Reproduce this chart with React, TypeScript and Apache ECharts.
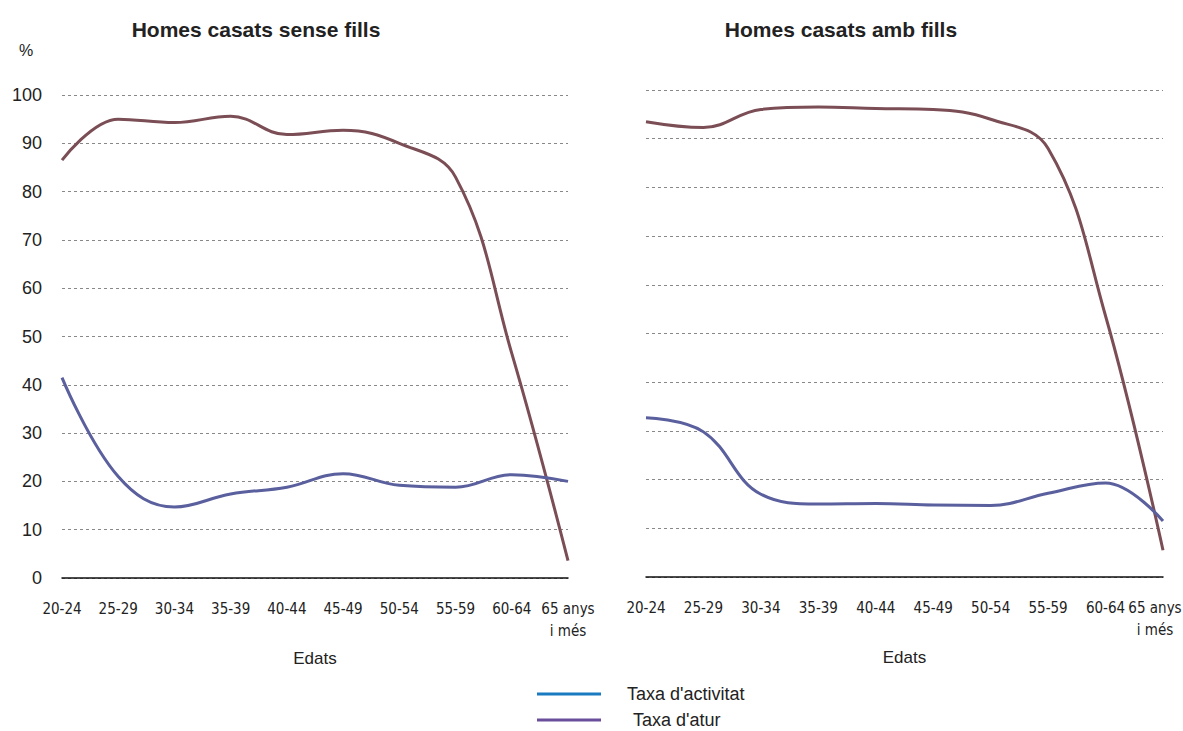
import React, { useEffect, useRef } from "react";
import * as echarts from "echarts";

const ages = ["20-24", "25-29", "30-34", "35-39", "40-44", "45-49", "50-54", "55-59", "60-64", "65 anys\ni més"];
const leftActivity = [86.5, 95, 94.3, 95.6, 91.8, 92.7, 90, 83, 46.5, 3.6];
const leftUnemployment = [41.5, 21, 14.7, 17.4, 18.8, 21.6, 19.2, 18.8, 21.4, 20];
const rightActivity = [93.5, 92.3, 96, 96.5, 96.2, 96, 94, 88, 53.6, 5.5];
const rightUnemployment = [32.7, 29.8, 17, 15, 15.1, 14.8, 14.7, 17.2, 19.3, 11.5];
const titles = ["Homes casats sense fills", "Homes casats amb fills"];
const seriesNames = ["Taxa d'activitat", "Taxa d'atur"];

const FONT = "'Liberation Sans', Arial, Helvetica, sans-serif";
const NARROW = "'Liberation Sans Narrow', 'Arial Narrow', 'DejaVu Sans Condensed', 'Liberation Sans', sans-serif";
const BROWN = "#7b4d55";
const SLATE = "#5a5f9d";

export default function App() {
  const ref = useRef<HTMLDivElement>(null);
  useEffect(() => {
    if (!ref.current) return;
    const chart = echarts.init(ref.current, null, { renderer: "svg" });
    const xAxisBase = (gridIndex: number, lastShift: number) => ({
      type: "category",
      gridIndex,
      data: ages,
      boundaryGap: false,
      axisTick: { show: false },
      axisLine: { lineStyle: { color: "#111", width: 1.5 } },
      axisLabel: {
        color: "#222",
        fontFamily: NARROW,
        fontSize: 15,
        margin: 20,
        lineHeight: 22,
        interval: 0,
        formatter: (v: string, i: number) =>
          i === ages.length - 1 ? v.split("\n").map((s) => `{last|${s}}`).join("\n") : v,
        rich: {
          last: { color: "#222", fontFamily: NARROW, fontSize: 15, lineHeight: 22, padding: [0, lastShift * 2, 0, 0] },
        },
      },
      name: "Edats",
      nameLocation: "middle",
      nameGap: 72,
      nameTextStyle: { color: "#222", fontFamily: FONT, fontSize: 17 },
    });
    const yAxisBase = (gridIndex: number, showLabels: boolean) => ({
      type: "value",
      gridIndex,
      min: 0,
      max: 100,
      interval: 10,
      axisLine: { show: false },
      axisTick: { show: false },
      axisLabel: {
        show: showLabels,
        color: "#222",
        fontFamily: FONT,
        fontSize: 18,
        margin: 20,
        padding: [0, 0, 12, 0],
      },
      splitLine: { lineStyle: { color: "#888", type: [3, 3], width: 1 } },
    });
    const lineSeries = (name: string, data: number[], color: string, idx: number) => ({
      type: "line",
      name,
      data,
      xAxisIndex: idx,
      yAxisIndex: idx,
      smooth: 0.4,
      symbol: "none",
      lineStyle: { color, width: 3 },
      itemStyle: { color },
    });
    const legendBase = (top: number, name: string, color: string, pad: number) => ({
      orient: "vertical",
      left: 532,
      top,
      icon: "rect",
      itemWidth: 64,
      itemHeight: 3,
      textStyle: { fontFamily: FONT, fontSize: 18, lineHeight: 18, color: "#222", padding: [0, 0, 0, pad] },
      data: [{ name, itemStyle: { color } }],
    });
    chart.setOption({
      animation: false,
      title: [
        { text: titles[0], left: 251, top: 14, textAlign: "center", textStyle: { fontFamily: FONT, fontSize: 21, fontWeight: "bold", color: "#222" } },
        { text: titles[1], left: 836, top: 14, textAlign: "center", textStyle: { fontFamily: FONT, fontSize: 21, fontWeight: "bold", color: "#222" } },
      ],
      graphic: [
        { type: "text", left: 19, top: 42, style: { text: "%", fontFamily: FONT, fontSize: 16, fill: "#222" } },
      ],
      legend: [
        legendBase(680, seriesNames[0], "#1b7bc0", 21),
        legendBase(706, seriesNames[1], "#6a4e9c", 27),
      ],
      grid: [
        { left: 62, right: 615, top: 95, bottom: 153, outerBoundsMode: "none" },
        { left: 646, right: 20, top: 90, bottom: 154, outerBoundsMode: "none" },
      ],
      xAxis: [xAxisBase(0, 0), xAxisBase(1, 8)],
      yAxis: [yAxisBase(0, true), yAxisBase(1, false)],
      series: [
        lineSeries(seriesNames[0], leftActivity, BROWN, 0),
        lineSeries(seriesNames[1], leftUnemployment, SLATE, 0),
        lineSeries(seriesNames[0], rightActivity, BROWN, 1),
        lineSeries(seriesNames[1], rightUnemployment, SLATE, 1),
      ],
    });
    return () => chart.dispose();
  }, []);
  return <div ref={ref} style={{ position: "absolute", left: 0, top: 0, width: 1183, height: 731 }} />;
}
